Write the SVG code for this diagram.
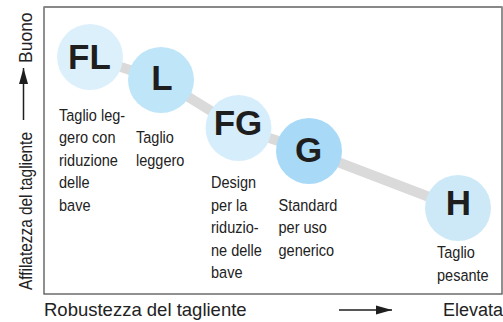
<svg xmlns="http://www.w3.org/2000/svg" width="503" height="322" viewBox="0 0 503 322">
<defs>
<style>
.lbl{font-family:"Liberation Sans",Arial,sans-serif;font-size:16.5px;fill:#222}
.big{font-family:"Liberation Sans",Arial,sans-serif;font-size:35px;font-weight:bold;fill:#1e1e1e;text-anchor:middle}
.ax{font-family:"Liberation Sans",Arial,sans-serif;font-size:18.5px;fill:#222}
.axv{font-family:"Liberation Sans",Arial,sans-serif;font-size:17.5px;fill:#222}
.conn{fill:none;stroke:#dadada;stroke-width:10}
</style>
<marker id="ah" markerWidth="16" markerHeight="10" refX="16" refY="5" orient="auto" markerUnits="userSpaceOnUse">
<path d="M0,0.5 L16,5 L0,9.5 Z" fill="#1e1e1e"/>
</marker>
</defs>
<rect x="0" y="0" width="503" height="322" fill="#fff"/>
<rect x="44" y="7" width="458" height="287" fill="#fff" stroke="#555" stroke-width="1.3"/>
<line x1="44" y1="7" x2="502" y2="7" stroke="#888" stroke-width="2"/>
<g id="connectors">
<polyline class="conn" points="90,57 161,80 238.5,128 309,151 458,208"/>
</g>
<g id="FL">
<circle cx="90" cy="57" r="33" fill="#dcf0fc"/>
<text class="big" x="89.5" y="69">FL</text>
<g transform="translate(59 0) scale(0.88 1)"><text class="lbl"><tspan x="0" y="121">Taglio leg-</tspan><tspan x="0" y="143.5">gero con</tspan><tspan x="0" y="166">riduzione</tspan><tspan x="0" y="188.5">delle</tspan><tspan x="0" y="211">bave</tspan></text></g>
</g>
<g id="L">
<circle cx="161" cy="80" r="33" fill="#bfe5f9"/>
<text class="big" x="162" y="90">L</text>
<g transform="translate(136 0) scale(0.88 1)"><text class="lbl"><tspan x="0" y="143.5">Taglio</tspan><tspan x="0" y="166">leggero</tspan></text></g>
</g>
<g id="FG">
<circle cx="238.5" cy="128" r="33" fill="#d6edfb"/>
<text class="big" x="238" y="135">FG</text>
<g transform="translate(211 0) scale(0.88 1)"><text class="lbl"><tspan x="0" y="188.5">Design</tspan><tspan x="0" y="211">per la</tspan><tspan x="0" y="233.5">riduzio-</tspan><tspan x="0" y="256">ne delle</tspan><tspan x="0" y="278.5">bave</tspan></text></g>
</g>
<g id="G">
<circle cx="309" cy="151" r="33" fill="#a8daf7"/>
<text class="big" x="308.5" y="162">G</text>
<g transform="translate(278.5 0) scale(0.88 1)"><text class="lbl"><tspan x="0" y="211">Standard</tspan><tspan x="0" y="233.5">per uso</tspan><tspan x="0" y="256">generico</tspan></text></g>
</g>
<g id="H">
<circle cx="458" cy="208" r="33" fill="#cde9f8"/>
<text class="big" x="458.5" y="215">H</text>
<g transform="translate(437 0) scale(0.88 1)"><text class="lbl"><tspan x="0" y="258.5">Taglio</tspan><tspan x="0" y="281">pesante</tspan></text></g>
</g>
<g id="axes">
<text class="ax" x="44" y="316">Robustezza del tagliente</text>
<text class="ax" x="443" y="316" style="font-size:18px">Elevata</text>
<line x1="339" y1="310" x2="392" y2="310" stroke="#1e1e1e" stroke-width="1.5" marker-end="url(#ah)"/>
<text class="axv" transform="translate(32 290) rotate(-90) scale(0.88 1)">Affilatezza del tagliente</text>
<text class="axv" transform="translate(32 63) rotate(-90)">Buono</text>
<line x1="23.5" y1="120" x2="23.5" y2="68" stroke="#1e1e1e" stroke-width="1.5" marker-end="url(#ah)"/>
</g>
</svg>
